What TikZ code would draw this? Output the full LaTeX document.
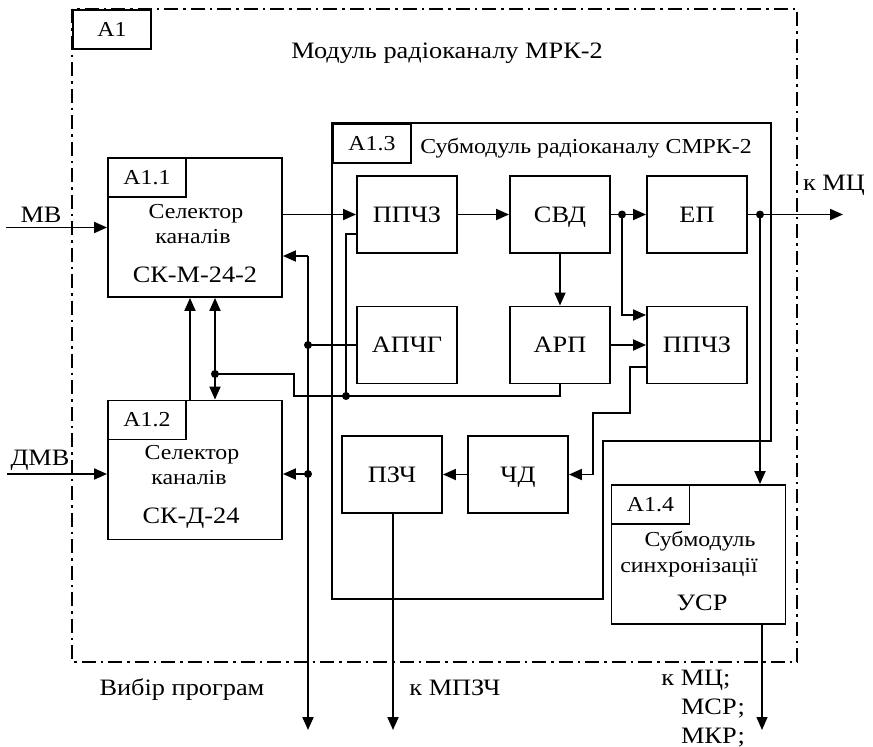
\documentclass[tikz,border=0pt]{standalone}
\usepackage{fontspec}
\setmainfont{Liberation Serif}[FakeStretch=1.12]
\usetikzlibrary{arrows.meta}
\newcommand\velfont{\fontsize{23.5}{28}\selectfont}
\newcommand\malfont{\fontsize{21.3}{25}\selectfont}
\tikzset{
  zv/.style={line width=1.9pt},
  tonka/.style={line width=1.2pt},
  ramka/.style={line width=1.9pt},
  shtrykh/.style={line width=2pt, dash pattern=on 14pt off 5pt on 2.5pt off 5pt},
  blok/.style={draw, line width=1.9pt, minimum width=100pt, minimum height=77pt,
    inner sep=0pt, text height=15pt, text depth=0pt, font=\velfont},
  selbox/.style={draw, line width=1.9pt, minimum width=174pt, minimum height=139pt},
  mitka/.style={draw, fill=white, line width=1.9pt, minimum width=78pt, minimum height=39pt,
    inner sep=0pt, anchor=north west, font=\malfont},
  napys/.style={anchor=base, inner sep=0pt, font=\velfont},
}
\begin{document}
\begin{tikzpicture}[x=1pt, y=-1pt, >={Triangle[length=13pt,width=11pt]}]
  \useasboundingbox (0,0) rectangle (873,747);
  % module A1
  \draw[shtrykh] (72,9) rectangle (797,662);
  \node[mitka] (m1) at (72,9) {A1};
  \node[napys] (nazva1) at (447,58) {Модуль радіоканалу МРК-2};

  % submodule A1.3
  \draw[ramka] (332,123) -- (771,123) -- (771,441) -- (603,441) -- (603,599) -- (332,599) -- cycle;
  \node[mitka] (m13) at (332,123) {A1.3};
  \node[napys, font=\malfont] (nazva13) at (586,153) {Субмодуль радіоканалу СМРК-2};

  % channel selectors
  \node[selbox] (sk1) at (195,227.5) {};
  \node[mitka] (m11) at (sk1.north west) {A1.1};
  \node[napys, font=\malfont] (sk1a) at (196,218) {Селектор};
  \node[napys, font=\malfont] (sk1b) at (193,243) {каналів};
  \node[napys] (sk1c) at (195,282) {СК-М-24-2};

  \node[selbox] (sk2) at (195,470) {};
  \node[mitka] (m12) at (sk2.north west) {A1.2};
  \node[napys, font=\malfont] (sk2a) at (192,459) {Селектор};
  \node[napys, font=\malfont] (sk2b) at (189,484) {каналів};
  \node[napys] (sk2c) at (191,523) {СК-Д-24};

  % blocks of A1.3
  \node[blok] (ppz1)  at (407,214.5) {ППЧЗ};
  \node[blok] (svd)   at (560,214.5) {СВД};
  \node[blok] (ep)    at (697,214.5) {ЕП};
  \node[blok] (apchg) at (407,345)   {АПЧГ};
  \node[blok] (arp)   at (560,345)   {АРП};
  \node[blok] (ppz2)  at (697,345)   {ППЧЗ};
  \node[blok] (pzch)  at (392,474.5) {ПЗЧ};
  \node[blok] (chd)   at (518,474.5) {ЧД};

  % submodule A1.4
  \node[selbox] (usr) at (698.5,554.5) {};
  \node[mitka] (m14) at (usr.north west) {A1.4};
  \node[napys, font=\malfont] (usra) at (700,546) {Субмодуль};
  \node[napys, font=\malfont] (usrb) at (689,572) {синхронізації};
  \node[napys] (usrc) at (702,610) {УСР};

  % inputs
  \coordinate (mv) at (6,227.5);
  \coordinate (dmv) at (7,474);
  \draw[zv, ->] (mv) -- (sk1.west);
  \draw[zv, ->] (dmv) -- (dmv -| sk2.west);
  \node[napys] (mvt) at (41,222) {МВ};
  \node[napys] (dmvt) at (40,465) {ДМВ};

  % signal path
  \coordinate (t1) at (622,214.5);
  \coordinate (t2) at (760,214.5);
  \coordinate (kmc) at (843,214.5);
  \draw[zv, ->] (sk1.east |- ppz1) -- (ppz1.west);
  \draw[zv, ->] (ppz1.east) -- (svd.west);
  \draw[zv, ->] (svd.east) -- (ep.west);
  \draw[zv, ->] (t1) |- (ppz2.west |- 0,315);
  \draw[zv, ->] (svd.south) -- (arp.north);
  \draw[zv, ->] (arp.east) -- (ppz2.west);
  \draw[zv, ->] (ep.east) -- (kmc);
  \node[napys] (kmct) at (834,190) {к МЦ};
  \draw[zv, ->] (t2) -- (t2 |- usr.north);
  \draw[zv, ->] (ppz2.west |- 0,367) -- (630,367) -- (630,413) -- (593,413) |- (chd.east);
  \draw[zv, ->] (chd.west) -- (pzch.east);

  % outputs
  \coordinate (kmpzch) at (393,730);
  \coordinate (kmcr) at (762,730);
  \draw[zv, ->] (pzch.south -| kmpzch) -- (kmpzch);
  \node[napys] (kmpzcht) at (455,695) {к МПЗЧ};
  \draw[tonka, ->] (usr.south -| kmcr) -- (kmcr);
  \node[napys] (kmcrt1) at (696,685) {к МЦ;};
  \node[napys] (kmcrt2) at (713,714) {МСР;};
  \node[napys] (kmcrt3) at (713,743) {МКР;};

  % program select bus
  \coordinate (sh1) at (308,256);
  \coordinate (sh2) at (308,730);
  \coordinate (t3) at (308,345);
  \coordinate (t4) at (308,474);
  \draw[zv, ->] (sh1) -- (sh1 -| sk1.east);
  \draw[zv, ->] (sh1) -- (sh2);
  \draw[zv] (apchg.west) -- (t3);
  \draw[zv, ->] (t4) -- (t4 -| sk2.east);
  \node[napys] (vybir) at (182,695) {Вибір програм};

  % between selectors
  \draw[zv, ->] (sk2.north -| 190,0) -- (sk1.south -| 190,0);
  \draw[zv, <->] (sk1.south -| 215,0) -- (sk2.north -| 215,0);
  \coordinate (t5) at (215,374);
  \coordinate (t6) at (346,396);
  \draw[tonka] (t5) -| (294,396) -| (arp.south);
  \draw[tonka] (ppz1.west |- 0,234) -| (t6);

  \foreach \t in {t1,t2,t3,t4,t5,t6}
    \fill (\t) circle[radius=4pt];
\end{tikzpicture}
\end{document}
